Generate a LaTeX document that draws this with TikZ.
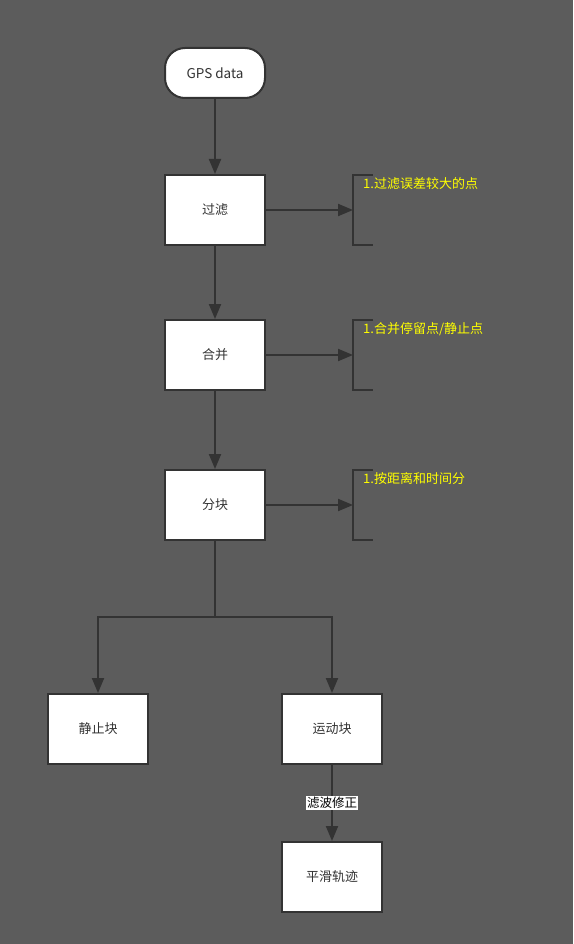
\documentclass[tikz,border=0pt]{standalone}
\usepackage{fontspec}
\setmainfont{Noto Sans CJK SC}
\usepackage{xcolor}
\usepackage{tikz}
\usetikzlibrary{arrows.meta, positioning}

\definecolor{bgGray}{HTML}{5C5C5C}
\definecolor{lineDark}{HTML}{333333}
\definecolor{noteYellow}{HTML}{FFFF00}

\begin{document}
\begin{tikzpicture}[x=1pt, y=-1pt,
        box/.style={draw=lineDark, line width=2pt, fill=white, minimum width=100pt, minimum height=70pt, text=lineDark, font=\fontsize{13}{15}\selectfont},
        startbox/.style={box, minimum height=50pt, rounded corners=20pt, font=\fontsize{13.5}{15}\selectfont},
        flow/.style={draw=lineDark, line width=2pt, -{Triangle[length=15pt, width=12pt]}},
        note/.style={text=noteYellow, anchor=base west, inner sep=0pt, font=\fontsize{13}{15}\selectfont},
        bracket/.style={draw=lineDark, line width=2pt}]
        \fill[bgGray] (0,0) rectangle (573,944);
        \useasboundingbox (0,0) rectangle (573,944);

        % main chain
        \node[startbox] (gps) at (215,73) {GPS data};
        \node[box] (filt) at (215,210) {过滤};
        \node[box] (merge) at (215,355) {合并};
        \node[box] (split) at (215,505) {分块};
        \node[box] (still) at (98,729) {静止块};
        \node[box] (move) at (332,729) {运动块};
        \node[box] (smooth) at (332,877) {平滑轨迹};

        \draw[flow] (gps) -- (filt);
        \draw[flow] (filt) -- (merge);
        \draw[flow] (merge) -- (split);

        % branch
        \coordinate (fork) at (215,617);
        \draw[draw=lineDark, line width=2pt] (split.south) -- (fork);
        \draw[flow] (fork) -| (still.north);
        \draw[flow] (fork) -| (move.north);
        \draw[flow] (move) -- (smooth) node[midway, fill=white, text=black, inner sep=1pt, font=\fontsize{12.5}{14}\selectfont] (fixlabel) {滤波修正};

        % notes
        \foreach \src/\y/\txt in {filt/210/{1.过滤误差较大的点}, merge/355/{1.合并停留点/静止点}, split/505/{1.按距离和时间分}} {
            \coordinate (\src-b) at (353,\y);
            \draw[bracket] (373,\y-35) -- (353,\y-35) -- (353,\y+35) -- (373,\y+35);
            \draw[flow] (\src) -- (\src-b);
            \node[note] (\src-note) at (363,\y-22) {\txt};
        }
    \end{tikzpicture}
\end{document}
